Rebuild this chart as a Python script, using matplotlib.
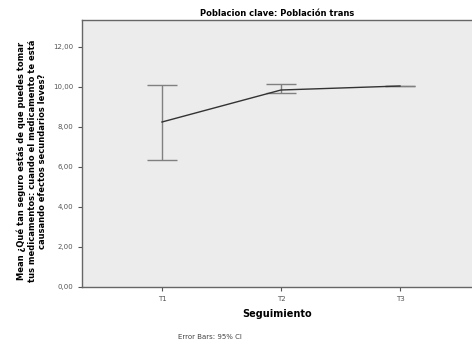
import matplotlib
matplotlib.use("Agg")
import matplotlib.pyplot as plt
import numpy as np

times = ["T1", "T2", "T3"]
means = [8.25, 9.85, 10.05]
ci_low = [6.35, 9.7, 10.05]
ci_high = [10.1, 10.15, 10.05]
y_ticks = [0, 2, 4, 6, 8, 10, 12]

fig = plt.figure(figsize=(4.72, 3.44), dpi=100)
ax = fig.add_axes([82 / 472, 57 / 344, 1 - 82 / 472, 267 / 344])
ax.set_facecolor("#ececec")

x = np.arange(1, len(times) + 1)
m = np.array(means)
yerr = [m - np.array(ci_low), np.array(ci_high) - m]
ax.errorbar(x, m, yerr=yerr, fmt="none", ecolor="#808080", elinewidth=1.0,
            capsize=10.5, capthick=1.0, zorder=2)
ax.plot(x, m, color="#333333", lw=1.0, zorder=3)

ax.set_xlim(0.328, 3.605)
ax.set_ylim(0, 13.35)
ax.set_xticks(x)
ax.set_xticklabels(times)
ax.set_yticks(y_ticks)
ax.set_yticklabels([f"{v:.2f}".replace(".", ",") for v in y_ticks])
ax.tick_params(labelsize=5, colors="#555555", length=3, width=0.8)
for side in ["top", "left", "bottom"]:
    ax.spines[side].set_color("#666666")
    ax.spines[side].set_linewidth(1.0)
ax.spines["right"].set_visible(False)

ax.set_title("Poblacion clave: Población trans", fontsize=6, fontweight="bold",
             pad=3)
ax.set_xlabel("Seguimiento", fontsize=7, fontweight="bold", labelpad=5)
fig.text(32 / 472, 1 - 161 / 344,
         "Mean ¿Qué tan seguro estás de que puedes tomar\n"
         "tus medicamentos: cuando el medicamento te está\n"
         "causando efectos secundarios leves?",
         fontsize=6, fontweight="bold", rotation=90, ha="center", va="center",
         multialignment="center", linespacing=1.2)
fig.text(210 / 472, 1 - 337 / 344, "Error Bars: 95% CI", fontsize=5,
         color="#444444", ha="center", va="center")

fig.savefig("out.png", dpi=100)
